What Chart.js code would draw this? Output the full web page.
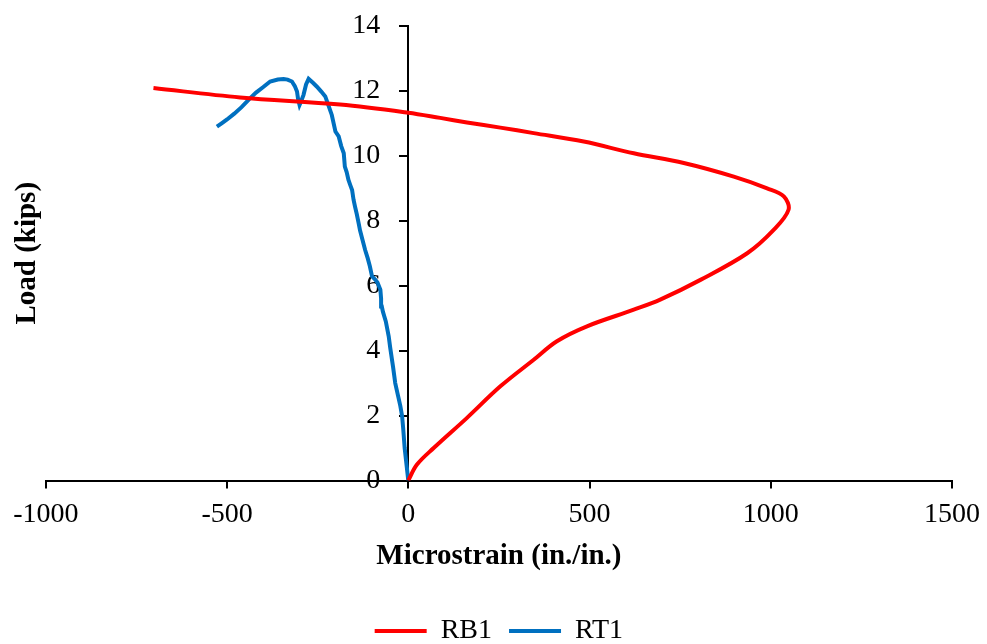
<!DOCTYPE html>
<html>
<head>
<meta charset="utf-8">
<script src="https://cdn.jsdelivr.net/npm/chart.js@4/dist/chart.umd.min.js"></script>
<style>
    html, body { margin: 0; padding: 0; background: #fff; }
    #wrap { width: 987px; height: 644px; }
</style>
</head>
<body>
<div id="wrap"><canvas id="strainChart" width="987" height="644"></canvas></div>
<script>
// RB1 gauge: microstrain vs load (kips)
const rb1Strain = [0, 24, 70, 162, 254, 346, 410, 493, 622, 695, 806, 935, 1008, 1049, 1036, 990, 898, 760, 622, 484, 346, 254, 162, 88, 0, -188, -464, -703];
const rb1Load = [0, 0.49, 1.0, 1.93, 2.9, 3.72, 4.29, 4.75, 5.26, 5.57, 6.18, 7.0, 7.72, 8.34, 8.75, 9.0, 9.36, 9.78, 10.08, 10.44, 10.7, 10.87, 11.03, 11.17, 11.33, 11.58, 11.8, 12.09];

// RT1 gauge
const rt1Strain = [0, -5, -10, -14, -17, -22, -28, -36, -42, -50, -54, -62, -70, -73, -75, -77, -85, -92, -100, -106, -112, -119, -126, -133, -137, -142, -147, -151, -155, -160, -165, -170, -175, -178, -185, -192, -201, -211, -220, -229, -240, -252, -263, -275, -282, -289, -295, -300, -304, -307, -313, -321, -333, -344, -360, -381, -400, -420, -436, -460, -480, -500, -515, -528];
const rt1Load = [0, 0.5, 1.0, 1.6, 1.98, 2.3, 2.6, 3.0, 3.5, 4.1, 4.44, 4.9, 5.2, 5.36, 5.6, 5.88, 6.1, 6.2, 6.29, 6.6, 6.85, 7.1, 7.4, 7.7, 7.93, 8.2, 8.44, 8.65, 8.95, 9.1, 9.26, 9.5, 9.67, 10.08, 10.3, 10.6, 10.75, 11.26, 11.55, 11.83, 11.98, 12.13, 12.25, 12.37, 12.2, 11.88, 11.7, 11.57, 11.75, 11.98, 12.15, 12.29, 12.35, 12.37, 12.35, 12.29, 12.12, 11.95, 11.78, 11.5, 11.3, 11.12, 11.0, 10.9];

const xTicks = [-1000, -500, 0, 500, 1000, 1500];
const yTicks = [0, 2, 4, 6, 8, 10, 12, 14];

const serif = "'Times New Roman', 'Liberation Serif', serif";

function toPoints(xs, ys) {
    return xs.map((x, i) => ({ x: x, y: ys[i] }));
}

const ctx = document.getElementById('strainChart');

new Chart(ctx, {
    type: 'scatter',
    data: {
        datasets: [
            {
                label: 'RB1',
                data: toPoints(rb1Strain, rb1Load),
                xAxisID: 'x',
                yAxisID: 'y',
                showLine: true,
                borderColor: '#FF0000',
                backgroundColor: '#FF0000',
                borderWidth: 4,
                pointRadius: 0,
                tension: 0.35
            },
            {
                label: 'RT1',
                data: toPoints(rt1Strain, rt1Load),
                xAxisID: 'x',
                yAxisID: 'y',
                showLine: true,
                borderColor: '#0070C0',
                backgroundColor: '#0070C0',
                borderWidth: 4,
                pointRadius: 0,
                tension: 0
            }
        ]
    },
    options: {
        responsive: false,
        animation: false,
        layout: {
            // label overhang is zeroed in afterFit, so these set the plot box directly
            padding: { left: 6, right: 35, top: 26, bottom: -11 }
        },
        plugins: {
            tooltip: { enabled: false },
            legend: {
                position: 'bottom',
                fullSize: false,
                labels: {
                    usePointStyle: true,
                    pointStyle: 'line',
                    pointStyleWidth: 52,
                    color: '#000',
                    padding: 17,
                    font: { family: serif, size: 28 }
                }
            }
        },
        scales: {
            x: {
                type: 'linear',
                min: -1000,
                max: 1500,
                afterBuildTicks: s => { s.ticks = xTicks.map(v => ({ value: v })); },
                afterFit: s => { s.paddingLeft = 0; s.paddingRight = 0; },
                border: { color: '#000', width: 2 },
                grid: { drawOnChartArea: false, drawTicks: true, tickLength: 8, color: '#000', lineWidth: 2 },
                ticks: {
                    color: '#000',
                    padding: 9,
                    maxRotation: 0,
                    font: { family: serif, size: 28 },
                    callback: v => String(v)
                },
                title: {
                    display: true,
                    text: 'Microstrain (in./in.)',
                    color: '#000',
                    padding: { top: 0, bottom: 28 },
                    font: { family: serif, size: 29, weight: 'bold', lineHeight: 1.1 }
                }
            },
            y: {
                type: 'linear',
                position: { x: 0 },
                min: 0,
                max: 14,
                afterBuildTicks: s => { s.ticks = yTicks.map(v => ({ value: v })); },
                afterFit: s => { s.width = 0; s.paddingTop = 0; s.paddingBottom = 0; },
                border: { color: '#000', width: 2 },
                grid: { drawOnChartArea: false, drawTicks: true, tickLength: 8, color: '#000', lineWidth: 2 },
                ticks: {
                    color: '#000',
                    font: { family: serif, size: 28 },
                    // centred axis draws labels flush with the line, so pad them off it
                    callback: v => String(v) + '    '
                }
            },
            // left-hand holder for the y title only
            yTitle: {
                type: 'linear',
                position: 'left',
                min: 0,
                max: 1,
                border: { display: false },
                grid: { display: false, drawTicks: false },
                ticks: { display: false },
                title: {
                    display: true,
                    text: 'Load (kips)',
                    color: '#000',
                    padding: { top: 4, bottom: 1 },
                    font: { family: serif, size: 29, weight: 'bold' }
                }
            }
        }
    }
});
</script>
</body>
</html>
